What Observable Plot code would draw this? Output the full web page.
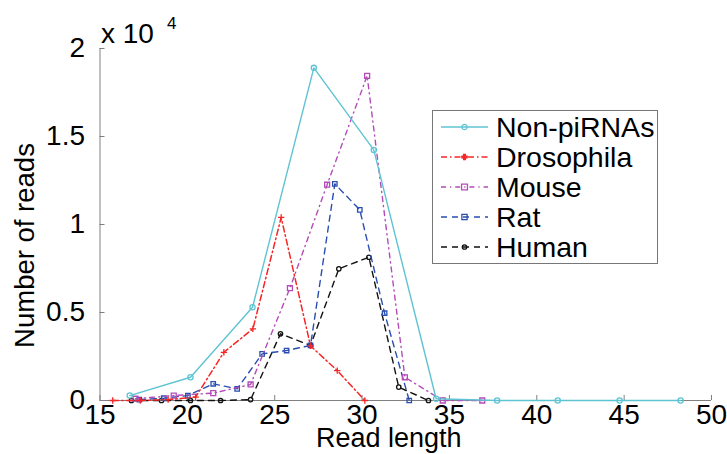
<!DOCTYPE html>
<html>
<head>
<meta charset="utf-8">
<script src="https://cdn.jsdelivr.net/npm/d3@7"></script>
<script src="https://cdn.jsdelivr.net/npm/@observablehq/plot@0.6"></script>
<style>
  html, body { margin: 0; padding: 0; background: #fff; }
  #wrap { position: relative; width: 727px; height: 454px; font-family: "Liberation Sans", Arial, sans-serif; }
  #legend { position: absolute; left: 432px; top: 110px; }
</style>
</head>
<body>
<div id="wrap"></div>
<script>
// ---- data ----
const seriesNames = ["Non-piRNAs", "Drosophila", "Mouse", "Rat", "Human"];

const lengthsNon = [16.7, 20.18, 23.73, 27.24, 30.67, 34.24, 37.73, 41.2, 44.74, 48.23];
const readsNon   = [280, 1320, 5300, 18900, 14240, 100, 0, 0, 0, 0];

const lengthsDro = [15.73, 17.3, 18.9, 20.47, 22.09, 23.75, 25.37, 27.05, 28.58, 30.16];
const readsDro   = [0, 0, 50, 190, 2740, 4070, 10400, 3100, 1700, 0];

const lengthsMouse = [17.03, 19.22, 21.48, 23.62, 25.87, 28.0, 30.29, 32.45, 34.62, 36.88];
const readsMouse   = [100, 280, 420, 910, 6380, 12260, 18450, 1320, 0, 0];

const lengthsRat = [17.25, 18.65, 20.03, 21.48, 22.85, 24.28, 25.68, 27.05, 28.44, 29.87, 31.29, 32.7];
const readsRat   = [50, 130, 280, 950, 660, 2650, 2840, 3130, 12310, 10830, 4960, 0];

const lengthsHuman = [16.8, 18.52, 20.18, 21.9, 23.62, 25.33, 27.05, 28.67, 30.39, 32.1, 33.8];
const readsHuman   = [0, 0, 0, 0, 50, 3790, 3130, 7480, 8140, 760, 0];

const xTicks = [15, 20, 25, 30, 35, 40, 45, 50];
const yTicks = [0, 5000, 10000, 15000, 20000];

// ---- styles ----
const styles = {
  "Non-piRNAs": {color: "#5ec4d2", dash: null, symbol: "circle", r: 2.6, fill: "none", sw: 1.4},
  "Drosophila": {color: "#f52626", dash: "6,3,1.5,3", symbol: "plus", r: 2.2, fill: "#f52626", sw: 1.5},
  "Mouse":      {color: "#b34cb8", dash: "5,4,1.2,4", symbol: "square", r: 2.8, fill: "none", sw: 1.4},
  "Rat":        {color: "#2a4db0", dash: "6,5", symbol: "square", r: 2.5, fill: "none", sw: 1.4},
  "Human":      {color: "#111111", dash: "6,5", symbol: "circle", r: 2.2, fill: "none", sw: 1.4}
};
const xs = [lengthsNon, lengthsDro, lengthsMouse, lengthsRat, lengthsHuman];
const ys = [readsNon, readsDro, readsMouse, readsRat, readsHuman];
const rows = seriesNames.map((name, k) => xs[k].map((x, i) => ({series: name, x, y: ys[k][i]})));

const font = "Liberation Sans, Arial, sans-serif";
const axisGray = "#808080";

const marks = [
  Plot.ruleY([0], {stroke: axisGray}),
  Plot.ruleX([15], {stroke: axisGray}),
  Plot.axisX({ticks: xTicks, tickSize: -5, tickPadding: 9, stroke: axisGray, fill: "black", fontSize: 28, label: null}),
  Plot.axisY({ticks: yTicks, tickSize: -5, tickPadding: 20, stroke: axisGray, fill: "black", fontSize: 28, tickFormat: d => String(d / 1e4), label: null})
];
[4, 3, 2, 1, 0].forEach(k => {
  const s = styles[seriesNames[k]];
  marks.push(Plot.line(rows[k], {x: "x", y: "y", stroke: s.color, strokeWidth: s.sw, strokeDasharray: s.dash}));
  marks.push(Plot.dot(rows[k], {x: "x", y: "y", symbol: s.symbol, r: s.r, stroke: s.color, fill: s.fill, strokeWidth: 1.3}));
});
marks.push(
  Plot.text(["x 10"], {frameAnchor: "top-left", text: d => d, textAnchor: "start", lineAnchor: "bottom", dx: 1, dy: -6, fontSize: 28}),
  Plot.text(["4"], {frameAnchor: "top-left", text: d => d, textAnchor: "start", lineAnchor: "bottom", dx: 67, dy: -20, fontSize: 17}),
  Plot.text(["Read length"], {frameAnchor: "bottom", text: d => d, textAnchor: "middle", lineAnchor: "bottom", dx: -17, dy: 46, fontSize: 27}),
  Plot.text(["Number of reads"], {frameAnchor: "left", text: d => d, rotate: -90, textAnchor: "middle", lineAnchor: "middle", dx: -75, dy: 21, fontSize: 27.5})
);

const chart = Plot.plot({
  width: 727,
  height: 454,
  marginLeft: 99.5,
  marginRight: 16,
  marginTop: 48,
  marginBottom: 54,
  x: {domain: [15, 50]},
  y: {domain: [0, 20000]},
  style: {fontFamily: font, fontSize: "28px", background: "white", color: "black"},
  marks
});
document.getElementById("wrap").appendChild(chart);

// ---- legend ----
const lg = d3.select("#wrap").append("svg").attr("id", "legend")
  .attr("width", 226).attr("height", 154);
lg.append("rect").attr("x", 0.5).attr("y", 0.5).attr("width", 225).attr("height", 153)
  .attr("fill", "white").attr("stroke", "#777").attr("stroke-width", 1);
seriesNames.forEach((name, i) => {
  const s = styles[name];
  const cy = 17 + i * 30;
  const g = lg.append("g");
  g.append("line").attr("x1", 9).attr("x2", 56).attr("y1", cy).attr("y2", cy)
    .attr("stroke", s.color).attr("stroke-width", s.sw).attr("stroke-dasharray", s.dash);
  const sym = d3.symbol().type(s.symbol === "square" ? d3.symbolSquare : s.symbol === "plus" ? d3.symbolCross : d3.symbolCircle)
    .size(s.symbol === "square" ? 4 * s.r * s.r * 1.1 : Math.PI * s.r * s.r);
  g.append("path").attr("d", sym()).attr("transform", `translate(32.5,${cy})`)
    .attr("stroke", s.color).attr("fill", s.fill).attr("stroke-width", 1.3);
  g.append("text").attr("x", 64).attr("y", cy).attr("dy", "0.36em")
    .attr("font-family", font).attr("font-size", 28.5).attr("fill", "black").text(name);
});
</script>
</body>
</html>
